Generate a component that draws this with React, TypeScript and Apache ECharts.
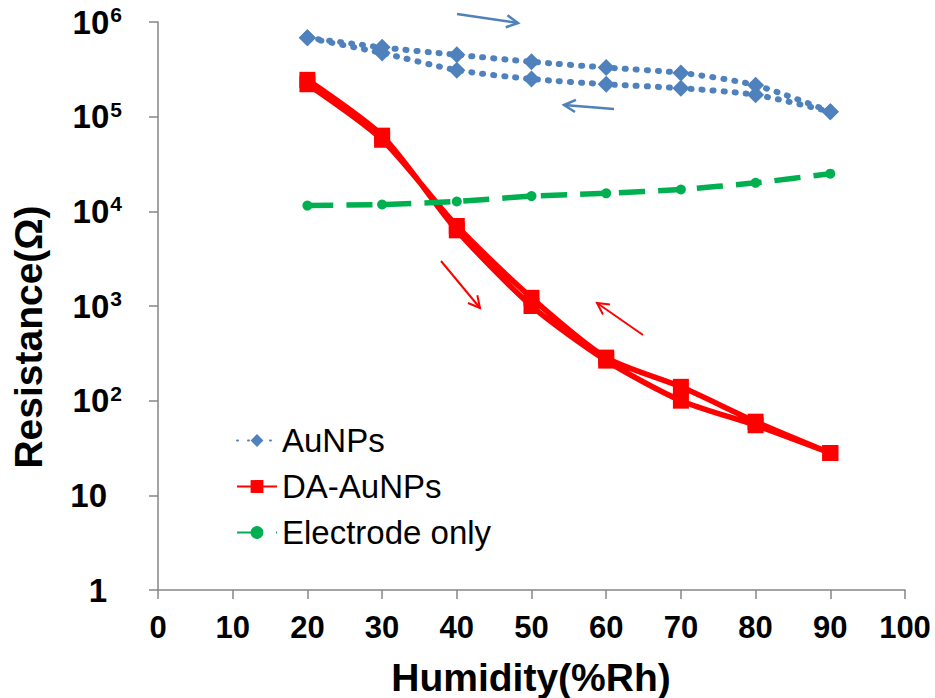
import React, { useEffect, useRef } from 'react';
import * as echarts from 'echarts';

// Humidity (%Rh) measured points
const humidityUp = [20, 30, 40, 50, 60, 70, 80, 90];
const humidityDown = [90, 80, 70, 60, 50, 40, 30, 20];

// AuNPs: increasing humidity (upper branch) then decreasing (lower branch)
const auNPsUp = [6.8e5, 5.4e5, 4.5e5, 3.8e5, 3.3e5, 2.9e5, 2.15e5, 1.13e5];
const auNPsDown = [1.13e5, 1.7e5, 2.0e5, 2.2e5, 2.5e5, 3.1e5, 4.7e5, 6.8e5];

// DA-AuNPs
const daAuNPsUp = [2.45e5, 6.3e4, 6.3e3, 1.0e3, 265, 100, 55, 28];
const daAuNPsDown = [28, 60, 140, 285, 1.22e3, 7.0e3, 5.7e4, 2.2e5];

// Electrode only
const electrodeOnly = [1.15e4, 1.18e4, 1.27e4, 1.45e4, 1.55e4, 1.7e4, 2.0e4, 2.5e4];

const xTickValues = [0, 10, 20, 30, 40, 50, 60, 70, 80, 90, 100];
const yTickExponents = [0, 1, 2, 3, 4, 5, 6];

const legendNames = ['AuNPs', 'DA-AuNPs', 'Electrode only'];
const xTitle = 'Humidity(%Rh)';
const yTitle = 'Resistance(Ω)';

const FONT = '"Liberation Sans", Arial, sans-serif';

function pairs(xs: number[], ys: number[]) {
  return xs.map((x, i) => [x, ys[i]]);
}

function arrow(x1: number, y1: number, x2: number, y2: number, color: string, width: number, head: number) {
  const a = Math.atan2(y2 - y1, x2 - x1);
  const spread = Math.PI / 6.5;
  const p1 = [x2 - head * Math.cos(a - spread), y2 - head * Math.sin(a - spread)];
  const p2 = [x2 - head * Math.cos(a + spread), y2 - head * Math.sin(a + spread)];
  return {
    type: 'group',
    children: [
      { type: 'line', shape: { x1, y1, x2, y2 }, style: { stroke: color, lineWidth: width } },
      { type: 'polyline', shape: { points: [p1, [x2, y2], p2] }, style: { stroke: color, lineWidth: width, fill: null } },
    ],
  };
}

export default function App() {
  const ref = useRef<HTMLDivElement>(null);

  useEffect(() => {
    if (!ref.current) return;
    const chart = echarts.init(ref.current, undefined, { renderer: 'svg' });

    const blue = '#4F81BD';
    const red = '#FF0000';
    const green = '#00B050';

    const option: any = {
      animation: false,
      backgroundColor: '#ffffff',
      grid: { left: 158, right: 30, top: 22, bottom: 108, containLabel: false },
      legend: {
        orient: 'vertical',
        left: 231,
        top: 419,
        itemWidth: 40,
        itemHeight: 16,
        itemGap: 13,
        data: legendNames,
        textStyle: { fontFamily: FONT, fontSize: 33, color: '#000', lineHeight: 33, padding: [0, 0, 0, 0] },
      },
      xAxis: {
        type: 'value',
        min: xTickValues[0],
        max: xTickValues[xTickValues.length - 1],
        interval: 10,
        axisLine: { lineStyle: { color: '#868686', width: 1.5 } },
        axisTick: { show: true, inside: false, length: 9, lineStyle: { color: '#868686', width: 1.5 } },
        splitLine: { show: false },
        axisLabel: {
          margin: 22,
          fontFamily: FONT,
          fontSize: 31,
          fontWeight: 'bold',
          color: '#000',
        },
      },
      yAxis: {
        type: 'log',
        logBase: 10,
        min: Math.pow(10, yTickExponents[0]),
        max: Math.pow(10, yTickExponents[yTickExponents.length - 1]),
        splitNumber: 6,
        axisLine: { lineStyle: { color: '#868686', width: 1.5 } },
        axisTick: { show: true, inside: false, length: 9, lineStyle: { color: '#868686', width: 1.5 } },
        splitLine: { show: false },
        minorTick: { show: false },
        axisLabel: {
          margin: 36,
          align: 'right',
          formatter: (v: number) => {
            const e = Math.round(Math.log10(v));
            if (e === 0) return '{b|1}{sp|}';
            if (e === 1) return '{b|10}{sp|}';
            return '{b|10}{s|' + e + '}';
          },
          rich: {
            b: { fontFamily: FONT, fontSize: 33, fontWeight: 'bold', color: '#000', lineHeight: 36 },
            s: { fontFamily: FONT, fontSize: 21, fontWeight: 'bold', color: '#000', lineHeight: 36, verticalAlign: 'top', padding: [0, 0, 0, 1] },
            sp: { width: 15, lineHeight: 36 },
          },
        },
      },
      series: [
        {
          name: legendNames[0],
          type: 'line',
          data: pairs(humidityUp, auNPsUp).concat(pairs(humidityDown, auNPsDown)),
          smooth: 0.25,
          symbol: 'diamond',
          symbolSize: 17,
          lineStyle: { color: blue, width: 6, type: [1, 10], cap: 'round' },
          itemStyle: { color: blue, borderWidth: 0 },
        },
        {
          name: legendNames[1],
          type: 'line',
          data: pairs(humidityUp, daAuNPsUp).concat(pairs(humidityDown, daAuNPsDown)),
          smooth: 0.25,
          symbol: 'rect',
          symbolSize: 16,
          lineStyle: { color: red, width: 5.5 },
          itemStyle: { color: red, borderWidth: 0 },
        },
        {
          name: legendNames[2],
          type: 'line',
          data: pairs(humidityUp, electrodeOnly),
          smooth: 0.15,
          symbol: 'circle',
          symbolSize: 10,
          lineStyle: { color: green, width: 5.5, type: [26, 13] },
          itemStyle: { color: green, borderWidth: 0 },
        },
      ],
      graphic: [
        arrow(457, 14, 518, 23, blue, 2.5, 13),
        arrow(614, 109, 564, 105, blue, 2.5, 13),
        arrow(441, 261, 480, 308, red, 2, 13),
        arrow(643, 335, 597, 303, red, 2, 13),
        {
          type: 'text',
          x: 531,
          y: 677,
          style: {
            text: xTitle,
            font: 'bold 39px ' + FONT,
            fill: '#000',
            textAlign: 'center',
            textVerticalAlign: 'middle',
            align: 'center',
            verticalAlign: 'middle',
          },
        },
        {
          type: 'text',
          x: 28,
          y: 337,
          rotation: Math.PI / 2,
          style: {
            text: yTitle,
            font: 'bold 39px ' + FONT,
            fill: '#000',
            textAlign: 'center',
            textVerticalAlign: 'middle',
            align: 'center',
            verticalAlign: 'middle',
          },
        },
      ],
    };

    chart.setOption(option);
    return () => chart.dispose();
  }, []);

  return <div ref={ref} style={{ width: 935, height: 698, position: 'absolute', left: 0, top: 0 }} />;
}
